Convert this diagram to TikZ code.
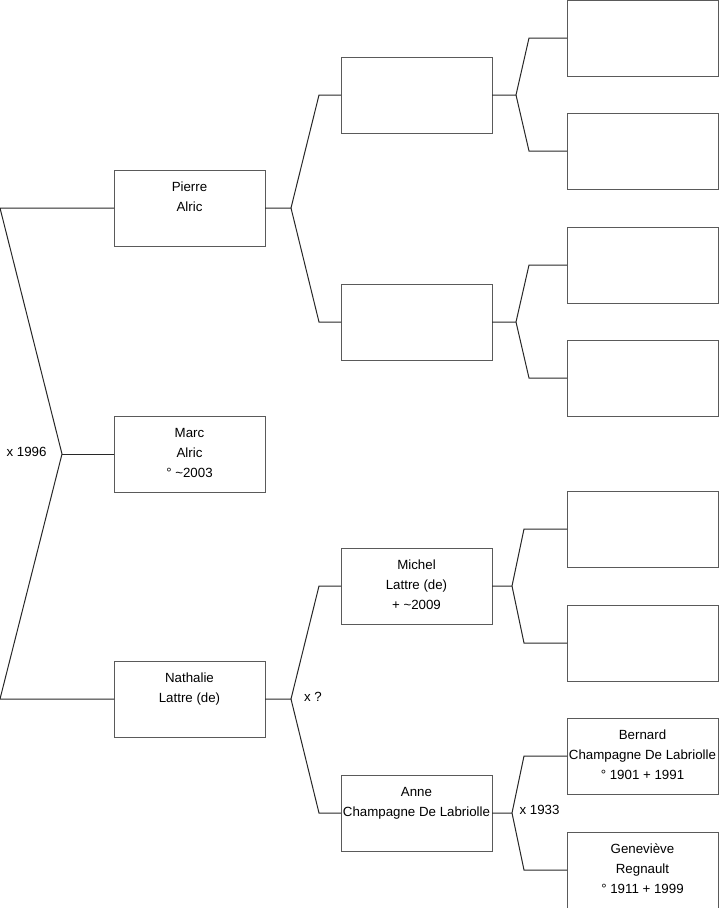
\documentclass[tikz,border=0pt]{standalone}
\usepackage{fontspec}
\setmainfont{Liberation Sans}
\definecolor{boxline}{RGB}{90,90,90}
\definecolor{conline}{RGB}{40,40,40}
\newcommand\pbox[4]{%
  \node[pbx, anchor=north west] (#1) at (#2,#3) {};
  \node[ptxt] (#1t) at ([yshift=-21.5pt]#1.north) {\begin{minipage}[t]{220pt}\centering\fontsize{13.3}{20}\selectfont #4\end{minipage}};}
\begin{document}
\begin{tikzpicture}[x=1pt,y=-1pt,
  pbx/.style={draw=boxline, line width=1pt, fill=white, minimum width=151pt, minimum height=76pt, inner sep=0pt, outer sep=0pt},
  ptxt/.style={anchor=base, inner sep=0pt, text=black},
  con/.style={draw=conline, line width=1pt},
  mlab/.style={inner sep=0pt, font=\fontsize{13.3}{15}\selectfont}]
\useasboundingbox[fill=white] (0,0) rectangle (719,908);
% generation 1
\pbox{p}{114}{170}{Pierre\\Alric}
\pbox{m}{114}{416}{Marc\\Alric\\° \textasciitilde2003}
\pbox{n}{114}{661}{Nathalie\\Lattre (de)}
% generation 2
\pbox{a}{341}{57}{}
\pbox{b}{341}{284}{}
\pbox{c}{341}{548}{Michel\\Lattre (de)\\+ \textasciitilde2009}
\pbox{d}{341}{775}{Anne\\Champagne De Labriolle}
% generation 3
\pbox{e1}{567}{0}{}
\pbox{e2}{567}{113}{}
\pbox{e3}{567}{227}{}
\pbox{e4}{567}{340}{}
\pbox{e5}{567}{491}{}
\pbox{e6}{567}{605}{}
\pbox{e7}{567}{718}{Bernard\\Champagne De Labriolle\\° 1901 + 1991}
\pbox{e8}{567}{832}{Geneviève\\Regnault\\° 1911 + 1999}
% root connectors
\coordinate (r1) at (0,208);
\coordinate (rj) at (62,454);
\coordinate (r2) at (0,699);
\draw[con] (p.west) -- (r1) -- (rj) -- (r2) -- (n.west);
\draw[con] (rj) -- (m.west);
\node[mlab] (x1) at (26.5,451.5) {x 1996};
% gen1 -> gen2
\draw[con] (p.east) -- ++(26,0) coordinate (pj) -- ([xshift=-22pt]a.west) -- (a.west);
\draw[con] (pj) -- ([xshift=-22pt]b.west) -- (b.west);
\draw[con] (n.east) -- ++(26,0) coordinate (nj) -- ([xshift=-22pt]c.west) -- (c.west);
\draw[con] (nj) -- ([xshift=-22pt]d.west) -- (d.west);
\node[mlab] (x2) at (313,697) {x ?};
% gen2 -> gen3
\draw[con] (a.east) -- ++(24,0) coordinate (aj) -- ([xshift=-38pt]e1.west) -- (e1.west);
\draw[con] (aj) -- ([xshift=-38pt]e2.west) -- (e2.west);
\draw[con] (b.east) -- ++(24,0) coordinate (bj) -- ([xshift=-38pt]e3.west) -- (e3.west);
\draw[con] (bj) -- ([xshift=-38pt]e4.west) -- (e4.west);
\draw[con] (c.east) -- ++(20,0) coordinate (cj) -- ([xshift=-43pt]e5.west) -- (e5.west);
\draw[con] (cj) -- ([xshift=-43pt]e6.west) -- (e6.west);
\draw[con] (d.east) -- ++(20,0) coordinate (dj) -- ([xshift=-43pt]e7.west) -- (e7.west);
\draw[con] (dj) -- ([xshift=-43pt]e8.west) -- (e8.west);
\node[mlab] (x3) at (539.5,810) {x 1933};
\end{tikzpicture}
\end{document}
